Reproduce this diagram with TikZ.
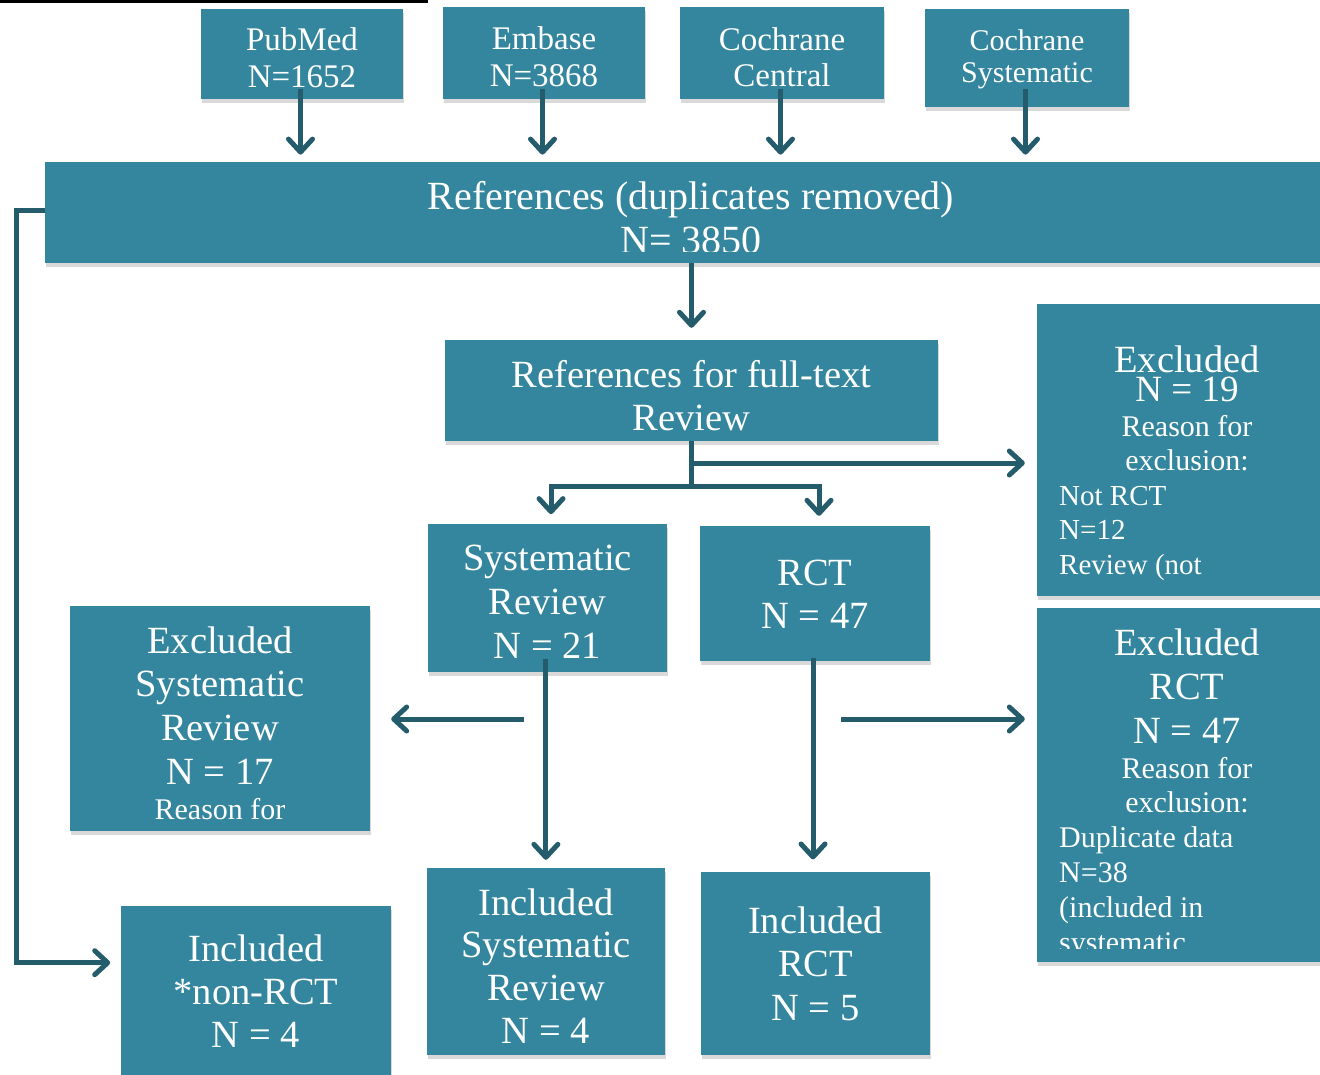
\documentclass[tikz,border=0pt]{standalone}
\usepackage{fontspec}
\setmainfont{Liberation Serif}
\usetikzlibrary{arrows.meta,shadows}
\definecolor{boxteal}{RGB}{51,134,157}
\definecolor{arrteal}{RGB}{36,92,108}

\begin{document}
\begin{tikzpicture}[x=1pt, y=-1pt,
box/.style={fill=boxteal, inner sep=0pt, drop shadow={shadow xshift=1pt, shadow yshift=-4pt, opacity=.3}},
tline/.style={text=white, inner sep=0pt, anchor=base, font=\fontsize{38.5}{44}\selectfont},
tsmall/.style={tline, font=\fontsize{30}{34}\selectfont},
ttop/.style={tline, font=\fontsize{33}{37}\selectfont},
link/.style={draw=arrteal, line width=5pt},
arr/.style={link, -{Straight Barb[length=13pt, width=24pt, round]}, shorten >=10pt}
]
\useasboundingbox (0,0) rectangle (1320,1074);
\clip (0,0) rectangle (1320,1074);

\draw[line width=2.7pt] (0,1.35) -- (428,1.35);

% boxes
\node[box, minimum width=202pt, minimum height=89.7pt] (pubmed) at (302,54.2) {};
\node[box, minimum width=202pt, minimum height=92.3pt] (embase) at (544,52.8) {};
\node[box, minimum width=204pt, minimum height=92.3pt] (central) at (782,52.8) {};
\node[box, minimum width=204pt, minimum height=98pt] (cochsys) at (1027,58) {};
\node[box, minimum width=1295pt, minimum height=100.4pt] (refs) at (692.5,212.5) {};
\node[box, minimum width=493pt, minimum height=101pt] (fulltext) at (691.5,390.5) {};
\node[box, minimum width=303pt, minimum height=292pt] (excl19) at (1188.5,450) {};
\node[box, minimum width=239pt, minimum height=147.7pt] (sr) at (547.5,598.2) {};
\node[box, minimum width=230pt, minimum height=135pt] (rct) at (815,593.5) {};
\node[box, minimum width=300pt, minimum height=224.7pt] (exclsr) at (220,718.3) {};
\node[box, minimum width=303pt, minimum height=353.4pt] (exclrct) at (1188.5,785) {};
\node[box, minimum width=269.6pt, minimum height=184pt] (inclnon) at (256.2,998) {};
\node[box, minimum width=238.2pt, minimum height=187pt] (inclsr) at (545.9,961.5) {};
\node[box, minimum width=229pt, minimum height=183.3pt] (inclrct) at (815.5,963.3) {};

% texts
\begin{scope}
\clip (pubmed.north west) rectangle (pubmed.east |- 0,87.5);
\foreach \t [count=\i from 0] in {PubMed,N=1652} \node[ttop] (pubmed-\i) at (302,{50.7+36.6*\i}) {\t};
\end{scope}
\foreach \t [count=\i from 0] in {Embase,N=3868} \node[ttop] (embase-\i) at (544,{49.3+36.7*\i}) {\t};
\foreach \t [count=\i from 0] in {Cochrane,Central} \node[ttop] (central-\i) at (782,{50+36.7*\i}) {\t};
\foreach \t [count=\i from 0] in {Cochrane,Systematic} \node[tline, font=\fontsize{30}{34}\selectfont] (cochsys-\i) at (1027,{50+32.7*\i}) {\t};
\begin{scope}
\clip (refs.north west) rectangle (refs.east |- 0,251);
\foreach \t [count=\i from 0] in {References (duplicates removed),N= 3850} \node[tline, font=\fontsize{40}{44}\selectfont] (refs-\i) at (691,{209.3+43.7*\i}) {\t};
\end{scope}
\foreach \t [count=\i from 0] in {References for full-text,Review} \node[tline] (fulltext-\i) at (691.5,{387.3+42.7*\i}) {\t};

\node[tline] (excl19-0) at (1187,372.7) {Excluded};
\node[tline, font=\fontsize{37}{40}\selectfont] (excl19-1) at (1187,401.7) {N = 19};
\foreach \t [count=\i from 0] in {Reason for,exclusion:} \node[tsmall] (excl19-r\i) at (1187,{436.7+34*\i}) {\t};
\foreach \t [count=\i from 0] in {Not RCT,N=12,Review (not} \node[tsmall, anchor=base west, font=\fontsize{29}{34}\selectfont] (excl19-l\i) at (1059,{505+34.5*\i}) {\t};

\foreach \t [count=\i from 0] in {Systematic,Review,N = 21} \node[tline] (sr-\i) at (547.5,{570.7+43.7*\i}) {\t};
\foreach \t [count=\i from 0] in {RCT,N = 47} \node[tline] (rct-\i) at (815,{585+43*\i}) {\t};

\begin{scope}
\clip (exclsr.north west) rectangle (exclsr.east |- 0,821);
\foreach \t [count=\i from 0] in {Excluded,Systematic,Review,N = 17} \node[tline] (exclsr-\i) at (220,{653+43.7*\i}) {\t};
\node[tsmall] (exclsr-r) at (220,819) {Reason for};
\end{scope}

\begin{scope}
\clip (exclrct.north west) rectangle (exclrct.east |- 0,948.3);
\foreach \t [count=\i from 0] in {Excluded,RCT,N = 47} \node[tline] (exclrct-\i) at (1187,{655+44.2*\i}) {\t};
\foreach \t [count=\i from 0] in {Reason for,exclusion:} \node[tsmall] (exclrct-r\i) at (1187,{778.3+34*\i}) {\t};
\foreach \t [count=\i from 0] in {Duplicate data,N=38,{(included in},systematic} \node[tsmall, anchor=base west] (exclrct-l\i) at (1059,{847.3+35*\i}) {\t};
\end{scope}

\foreach \t [count=\i from 0] in {Included,*non-RCT,N = 4} \node[tline] (inclnon-\i) at (256,{961.7+43*\i}) {\t};
\foreach \t [count=\i from 0] in {Included,Systematic,Review,N = 4} \node[tline] (inclsr-\i) at (546,{915+42.7*\i}) {\t};
\foreach \t [count=\i from 0] in {Included,RCT,N = 5} \node[tline] (inclrct-\i) at (815.5,{933+43.8*\i}) {\t};

% arrows
\foreach \s in {pubmed,embase,central,cochsys}{\draw[arr, shorten >=7.5pt] ([xshift=-1.5pt]\s.south |- 0,89) -- ([xshift=-1.5pt]\s.south |- refs.north);}
\draw[arr, shorten >=12pt] (refs.south -| fulltext.north) -- (fulltext.north);
\coordinate (fork) at (691.5,486.7);
\coordinate (tap) at (691.5,463);
\draw[link] (fulltext.south) -- (fork);
\draw[arr] (fork) -| ([xshift=3.5pt]sr.north);
\draw[arr] (fork) -| ([xshift=4pt]rct.north);
\draw[arr, shorten >=12pt] (tap) -- (tap -| excl19.west);
\draw[arr, shorten >=8pt] (inclsr.north |- 0,659) -- (inclsr.north);
\draw[arr, shorten >=12pt] ([xshift=-2pt]rct.south |- 0,658) -- ([xshift=-2pt]rct.south |- inclrct.north);
\coordinate (srout) at (524,719);
\coordinate (rctout) at (841,719);
\draw[arr, shorten >=21pt] (srout) -- (srout -| exclsr.east);
\draw[arr, shorten >=12pt] (rctout) -- (rctout -| exclrct.west);
\coordinate (loopc) at (16,962.7);
\draw[arr, shorten >=11pt] (refs.west |- 0,210.7) -| (loopc) -- (loopc -| inclnon.west);
\end{tikzpicture}
\end{document}
